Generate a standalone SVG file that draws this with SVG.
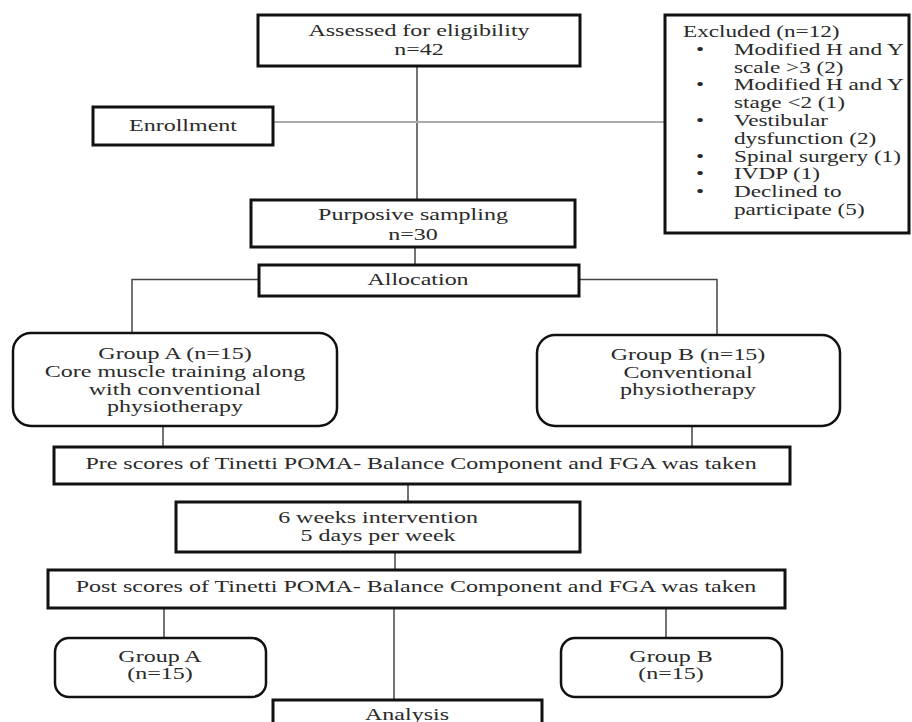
<svg xmlns="http://www.w3.org/2000/svg" width="912" height="722" viewBox="0 0 912 722">
<style>
text{font-family:"Liberation Serif","Times New Roman",serif;font-size:16px;fill:#2a2a2a}
.c{text-anchor:middle}
.l{text-anchor:start}
.box{fill:#fff;stroke:#111;stroke-width:3}
.rbox{fill:#fff;stroke:#111;stroke-width:2.5}
.ln{stroke:#444;stroke-width:1.5;fill:none}
.lt{stroke:#aaa;stroke-width:2;fill:none}
</style>
<rect width="912" height="722" fill="#fff"/>
<g id="connectors">
<line class="ln" x1="417" y1="66" x2="417" y2="200"/>
<line class="lt" x1="273" y1="122" x2="665" y2="122"/>
<polyline class="ln" points="259,279.5 132,279.5 132,333"/>
<polyline class="ln" points="579,279.5 717,279.5 717,335"/>
<line class="ln" x1="415" y1="247" x2="415" y2="265"/>
<line class="ln" x1="163" y1="426" x2="163" y2="447"/>
<line class="ln" x1="692" y1="426" x2="692" y2="447"/>
<line class="ln" x1="408" y1="484" x2="408" y2="502"/>
<line class="ln" x1="395" y1="552" x2="395" y2="570"/>
<line class="ln" x1="164" y1="608" x2="164" y2="638"/>
<line class="ln" x1="394" y1="608" x2="394" y2="700"/>
<line class="ln" x1="666" y1="608" x2="666" y2="638"/>
</g>
<g id="assessed">
<rect class="box" x="258" y="15" width="322" height="51"/>
<text class="c" transform="translate(419,36) scale(1.5,1)">Assessed for eligibility</text>
<text class="c" transform="translate(419,55) scale(1.5,1)">n=42</text>
</g>
<g id="enrollment">
<rect class="box" x="93" y="107" width="180" height="38"/>
<text class="c" transform="translate(183,131) scale(1.5,1)">Enrollment</text>
</g>
<g id="excluded">
<rect class="box" x="665" y="15" width="244" height="218"/>
<text class="l" transform="translate(683,37) scale(1.45,1)">Excluded (n=12)</text>
<text class="l" transform="translate(696,55) scale(1.45,1)">•</text>
<text class="l" transform="translate(734,55) scale(1.45,1)">Modified H and Y</text>
<text class="l" transform="translate(734,73) scale(1.45,1)">scale &gt;3 (2)</text>
<text class="l" transform="translate(696,90) scale(1.45,1)">•</text>
<text class="l" transform="translate(734,90) scale(1.45,1)">Modified H and Y</text>
<text class="l" transform="translate(734,108) scale(1.45,1)">stage &lt;2 (1)</text>
<text class="l" transform="translate(696,126) scale(1.45,1)">•</text>
<text class="l" transform="translate(734,126) scale(1.45,1)">Vestibular</text>
<text class="l" transform="translate(734,144) scale(1.45,1)">dysfunction (2)</text>
<text class="l" transform="translate(696,162) scale(1.45,1)">•</text>
<text class="l" transform="translate(734,162) scale(1.45,1)">Spinal surgery (1)</text>
<text class="l" transform="translate(696,179) scale(1.45,1)">•</text>
<text class="l" transform="translate(734,179) scale(1.45,1)">IVDP (1)</text>
<text class="l" transform="translate(696,197) scale(1.45,1)">•</text>
<text class="l" transform="translate(734,197) scale(1.45,1)">Declined to</text>
<text class="l" transform="translate(734,215) scale(1.45,1)">participate (5)</text>
</g>
<g id="purposive">
<rect class="box" x="251" y="200" width="324" height="47"/>
<text class="c" transform="translate(413,220) scale(1.5,1)">Purposive sampling</text>
<text class="c" transform="translate(413,240) scale(1.5,1)">n=30</text>
</g>
<g id="allocation">
<rect class="box" x="259" y="265" width="320" height="31"/>
<text class="c" transform="translate(418,285) scale(1.5,1)">Allocation</text>
</g>
<g id="groupA">
<rect class="rbox" x="13" y="333" width="324" height="93" rx="18"/>
<text class="c" transform="translate(175,359) scale(1.5,1)">Group A (n=15)</text>
<text class="c" transform="translate(175,377) scale(1.5,1)">Core muscle training along</text>
<text class="c" transform="translate(175,395) scale(1.5,1)">with conventional</text>
<text class="c" transform="translate(175,412) scale(1.5,1)">physiotherapy</text>
</g>
<g id="groupB">
<rect class="rbox" x="537" y="335" width="303" height="91" rx="18"/>
<text class="c" transform="translate(688,360) scale(1.5,1)">Group B (n=15)</text>
<text class="c" transform="translate(688,378) scale(1.5,1)">Conventional</text>
<text class="c" transform="translate(688,395) scale(1.5,1)">physiotherapy</text>
</g>
<g id="pre">
<rect class="box" x="54" y="447" width="736" height="37"/>
<text class="c" transform="translate(421,469) scale(1.5,1)">Pre scores of Tinetti POMA- Balance Component and FGA was taken</text>
</g>
<g id="intervention">
<rect class="box" x="176" y="502" width="404" height="50"/>
<text class="c" transform="translate(378,523) scale(1.5,1)">6 weeks intervention</text>
<text class="c" transform="translate(378,541) scale(1.5,1)">5 days per week</text>
</g>
<g id="post">
<rect class="box" x="48" y="570" width="737" height="38"/>
<text class="c" transform="translate(416,592) scale(1.5,1)">Post scores of Tinetti POMA- Balance Component and FGA was taken</text>
</g>
<g id="groupA2">
<rect class="rbox" x="55" y="638" width="211" height="59" rx="14"/>
<text class="c" transform="translate(160,662) scale(1.5,1)">Group A</text>
<text class="c" transform="translate(160,679) scale(1.5,1)">(n=15)</text>
</g>
<g id="groupB2">
<rect class="rbox" x="561" y="638" width="221" height="59" rx="14"/>
<text class="c" transform="translate(671,662) scale(1.5,1)">Group B</text>
<text class="c" transform="translate(671,679) scale(1.5,1)">(n=15)</text>
</g>
<g id="analysis">
<rect class="box" x="273" y="700" width="269" height="40"/>
<text class="c" transform="translate(407,720) scale(1.5,1)">Analysis</text>
</g>
</svg>
